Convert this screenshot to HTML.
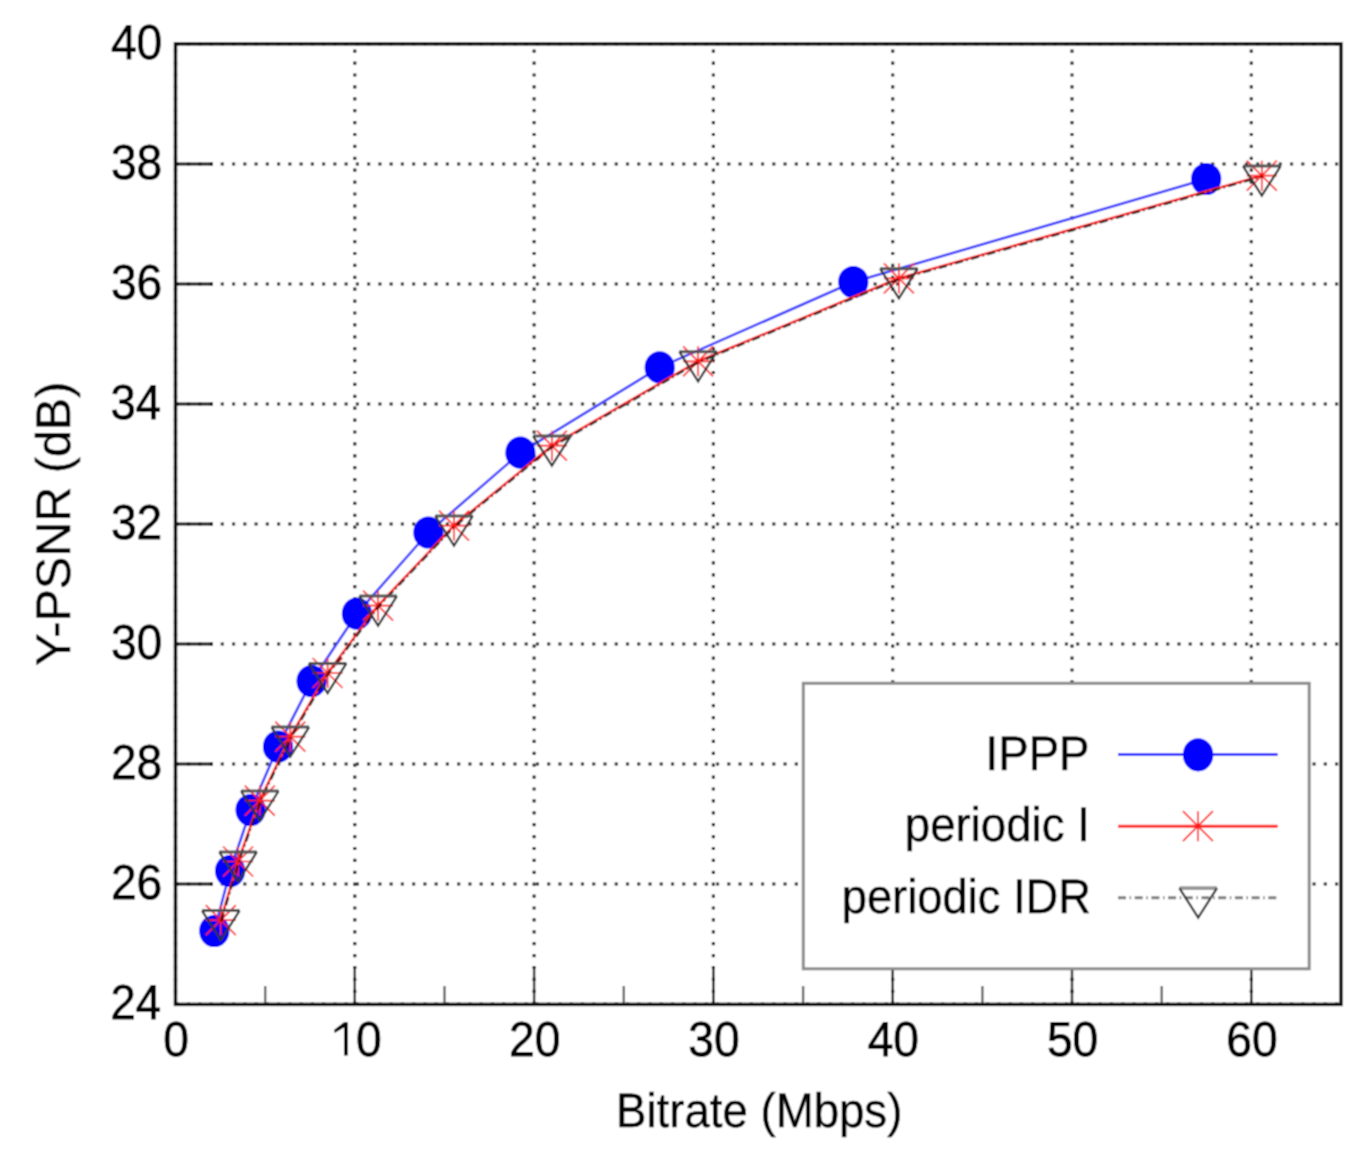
<!DOCTYPE html><html><head><meta charset="utf-8"><style>html,body{margin:0;padding:0;background:#fff;}svg{display:block;}text{font-family:"Liberation Sans",sans-serif;text-rendering:geometricPrecision;}</style></head><body>
<svg width="1367" height="1164" viewBox="0 0 1367 1164">
<defs><filter id="bl" x="0" y="0" width="1367" height="1164" filterUnits="userSpaceOnUse" primitiveUnits="userSpaceOnUse"><feConvolveMatrix order="3" kernelMatrix="1 2 1 2 4 2 1 2 1" divisor="16" edgeMode="duplicate"/></filter></defs>
<rect width="1367" height="1164" fill="#fff"/><g filter="url(#bl)"><rect width="1367" height="1164" fill="#fff"/>
<path d="M175.5 1004.0H1341.0M175.5 884.0H1341.0M175.5 764.0H1341.0M175.5 644.0H1341.0M175.5 524.0H1341.0M175.5 404.0H1341.0M175.5 284.0H1341.0M175.5 164.0H1341.0M175.5 44.0H1341.0" stroke="#282828" stroke-width="3.2" stroke-dasharray="3.2 8.055" stroke-dashoffset="-0.20" fill="none"/>
<path d="M175.5 1004.0V44.0M354.8 1004.0V44.0M534.1 1004.0V44.0M713.4 1004.0V44.0M892.7 1004.0V44.0M1072.0 1004.0V44.0M1251.3 1004.0V44.0" stroke="#282828" stroke-width="3.2" stroke-dasharray="3.2 8.700" stroke-dashoffset="0.80" fill="none"/>
<path d="M175.5 884.0h37.5M175.5 764.0h37.5M175.5 644.0h37.5M175.5 524.0h37.5M175.5 404.0h37.5M175.5 284.0h37.5M175.5 164.0h37.5" stroke="#111" stroke-width="3" fill="none"/>
<path d="M354.8 1004.0v-37.5M534.1 1004.0v-37.5M713.4 1004.0v-37.5M892.7 1004.0v-37.5M1072.0 1004.0v-37.5M1251.3 1004.0v-37.5" stroke="#222" stroke-width="2.4" fill="none"/>
<path d="M265.2 1004.0v-18M444.5 1004.0v-18M623.8 1004.0v-18M803.1 1004.0v-18M982.4 1004.0v-18M1161.7 1004.0v-18" stroke="#666" stroke-width="2.4" fill="none"/>
<rect x="803.3" y="683.3" width="505.9" height="285.5" fill="#fff" stroke="#8c8c8c" stroke-width="3"/>
<rect x="175.5" y="43.9" width="1165.5" height="960.5" fill="none" stroke="#111" stroke-width="3.5"/>
<polyline points="214.3,931.0 230.1,871.0 250.6,810.0 278.0,746.7 311.6,681.2 356.9,613.7 428.4,532.5 520.4,452.7 659.7,367.4 853.3,282.0 1206.2,179.0" fill="none" stroke="#4040ff" stroke-width="2.6" stroke-linejoin="round"/>
<ellipse cx="214.3" cy="931.0" rx="15.1" ry="16.1" fill="#0000ff"/>
<ellipse cx="230.1" cy="871.0" rx="15.1" ry="16.1" fill="#0000ff"/>
<ellipse cx="250.6" cy="810.0" rx="15.1" ry="16.1" fill="#0000ff"/>
<ellipse cx="278.0" cy="746.7" rx="15.1" ry="16.1" fill="#0000ff"/>
<ellipse cx="311.6" cy="681.2" rx="15.1" ry="16.1" fill="#0000ff"/>
<ellipse cx="356.9" cy="613.7" rx="15.1" ry="16.1" fill="#0000ff"/>
<ellipse cx="428.4" cy="532.5" rx="15.1" ry="16.1" fill="#0000ff"/>
<ellipse cx="520.4" cy="452.7" rx="15.1" ry="16.1" fill="#0000ff"/>
<ellipse cx="659.7" cy="367.4" rx="15.1" ry="16.1" fill="#0000ff"/>
<ellipse cx="853.3" cy="282.0" rx="15.1" ry="16.1" fill="#0000ff"/>
<ellipse cx="1206.2" cy="179.0" rx="15.1" ry="16.1" fill="#0000ff"/>
<polyline points="220.8,920.2 238.1,861.5 259.8,800.6 290.3,736.7 327.6,673.0 378.1,605.7 454.0,525.6 551.9,445.7 698.1,361.3 898.9,278.3 1261.8,175.7" fill="none" stroke="#ff2a2a" stroke-width="2.6" stroke-linejoin="round"/>
<path d="M205.8 920.2h30M220.8 905.2v30M205.8 905.2l30 30M205.8 935.2l30 -30M223.1 861.5h30M238.1 846.5v30M223.1 846.5l30 30M223.1 876.5l30 -30M244.8 800.6h30M259.8 785.6v30M244.8 785.6l30 30M244.8 815.6l30 -30M275.3 736.7h30M290.3 721.7v30M275.3 721.7l30 30M275.3 751.7l30 -30M312.6 673.0h30M327.6 658.0v30M312.6 658.0l30 30M312.6 688.0l30 -30M363.1 605.7h30M378.1 590.7v30M363.1 590.7l30 30M363.1 620.7l30 -30M439.0 525.6h30M454.0 510.6v30M439.0 510.6l30 30M439.0 540.6l30 -30M536.9 445.7h30M551.9 430.7v30M536.9 430.7l30 30M536.9 460.7l30 -30M683.1 361.3h30M698.1 346.3v30M683.1 346.3l30 30M683.1 376.3l30 -30M883.9 278.3h30M898.9 263.3v30M883.9 263.3l30 30M883.9 293.3l30 -30M1246.8 175.7h30M1261.8 160.7v30M1246.8 160.7l30 30M1246.8 190.7l30 -30" stroke="#ff1a1a" stroke-width="1.7" fill="none"/>
<polyline points="221.3,921.1 238.6,862.4 260.3,801.5 290.8,737.6 328.1,673.9 378.6,606.6 454.5,526.5 552.4,446.6 698.6,362.2 899.4,279.2 1262.3,176.6" fill="none" stroke="#000" stroke-opacity="0.75" stroke-width="2.3" stroke-dasharray="8 3.6 1.5 3.6"/>
<path d="M202.0 910.6H239.6M219.3 851.9H256.9M241.0 791.0H278.6M271.5 727.1H309.1M308.8 663.4H346.4M359.3 596.1H396.9M435.2 516.0H472.8M533.1 436.1H570.7M679.3 351.7H716.9M880.1 268.7H917.7M1243.0 166.1H1280.6" stroke="#555" stroke-width="3.0" fill="none"/>
<path d="M202.0 910.6L220.8 940.2L239.6 910.6M219.3 851.9L238.1 881.5L256.9 851.9M241.0 791.0L259.8 820.6L278.6 791.0M271.5 727.1L290.3 756.7L309.1 727.1M308.8 663.4L327.6 693.0L346.4 663.4M359.3 596.1L378.1 625.7L396.9 596.1M435.2 516.0L454.0 545.6L472.8 516.0M533.1 436.1L551.9 465.7L570.7 436.1M679.3 351.7L698.1 381.3L716.9 351.7M880.1 268.7L898.9 298.3L917.7 268.7M1243.0 166.1L1261.8 195.7L1280.6 166.1" stroke="#333" stroke-width="2.3" fill="none" stroke-linejoin="miter"/>
<text transform="translate(161.1 1019.1) scale(0.92787 1)" font-size="49.0" text-anchor="end" fill="#000" stroke="#000" stroke-width="0.8">24</text>
<text transform="translate(162.3 899.1) scale(0.942 1)" font-size="49.0" text-anchor="end" fill="#000" stroke="#000" stroke-width="0.8">26</text>
<text transform="translate(162.3 779.1) scale(0.942 1)" font-size="49.0" text-anchor="end" fill="#000" stroke="#000" stroke-width="0.8">28</text>
<text transform="translate(162.3 659.1) scale(0.942 1)" font-size="49.0" text-anchor="end" fill="#000" stroke="#000" stroke-width="0.8">30</text>
<text transform="translate(162.3 539.1) scale(0.942 1)" font-size="49.0" text-anchor="end" fill="#000" stroke="#000" stroke-width="0.8">32</text>
<text transform="translate(161.1 419.1) scale(0.92787 1)" font-size="49.0" text-anchor="end" fill="#000" stroke="#000" stroke-width="0.8">34</text>
<text transform="translate(162.3 299.1) scale(0.942 1)" font-size="49.0" text-anchor="end" fill="#000" stroke="#000" stroke-width="0.8">36</text>
<text transform="translate(162.3 179.1) scale(0.942 1)" font-size="49.0" text-anchor="end" fill="#000" stroke="#000" stroke-width="0.8">38</text>
<text transform="translate(162.3 59.1) scale(0.942 1)" font-size="49.0" text-anchor="end" fill="#000" stroke="#000" stroke-width="0.8">40</text>
<text transform="translate(176.1 1056.0) scale(0.942 1)" font-size="49.0" text-anchor="middle" fill="#000" stroke="#000" stroke-width="0.8">0</text>
<text transform="translate(368.8 1056.0) scale(0.942 1)" font-size="49.0" text-anchor="middle" fill="#000" stroke="#000" stroke-width="0.8">0</text>
<path d="M344.0 1022.2H347.8V1055.6H344.0V1027.6L334.7 1033.1L334.2 1029.7Z" fill="#000"/>
<text transform="translate(534.7 1056.0) scale(0.942 1)" font-size="49.0" text-anchor="middle" fill="#000" stroke="#000" stroke-width="0.8">20</text>
<text transform="translate(714.0 1056.0) scale(0.942 1)" font-size="49.0" text-anchor="middle" fill="#000" stroke="#000" stroke-width="0.8">30</text>
<text transform="translate(893.3 1056.0) scale(0.942 1)" font-size="49.0" text-anchor="middle" fill="#000" stroke="#000" stroke-width="0.8">40</text>
<text transform="translate(1072.6 1056.0) scale(0.942 1)" font-size="49.0" text-anchor="middle" fill="#000" stroke="#000" stroke-width="0.8">50</text>
<text transform="translate(1251.9 1056.0) scale(0.942 1)" font-size="49.0" text-anchor="middle" fill="#000" stroke="#000" stroke-width="0.8">60</text>
<text transform="translate(759.2 1127.2) scale(0.942 1)" font-size="48.4" text-anchor="middle" fill="#000" stroke="#000" stroke-width="0.5">Bitrate (Mbps)</text>
<text transform="translate(69.5 523.65) rotate(-90) scale(1.003 1)" font-size="48.4" text-anchor="middle" fill="#000" stroke="#000" stroke-width="0.5">Y-PSNR (dB)</text>
<text transform="translate(1089.5 770.3) scale(0.942 1)" font-size="48.4" text-anchor="end" fill="#000" stroke="#000" stroke-width="0.5">IPPP</text>
<text transform="translate(1089.8 841.3) scale(0.942 1)" font-size="48.4" text-anchor="end" fill="#000" stroke="#000" stroke-width="0.5">periodic I</text>
<text transform="translate(1091.0 912.8) scale(0.936348 1)" font-size="48.4" text-anchor="end" fill="#000" stroke="#000" stroke-width="0.5">periodic IDR</text>
<path d="M1118 754.6H1277.7" stroke="#4040ff" stroke-width="3"/>
<ellipse cx="1198.1" cy="754.8" rx="15.2" ry="16.6" fill="#0000ff"/>
<path d="M1118 826.2H1277.7" stroke="#ff2a2a" stroke-width="3"/>
<path d="M1182.9 826.2h30M1197.9 811.2v30M1182.9 811.2l30 30M1182.9 841.2l30 -30" stroke="#ff1a1a" stroke-width="1.7" fill="none"/>
<path d="M1118 897.7H1278.5" stroke="#000" stroke-opacity="0.5" stroke-width="3" stroke-dasharray="8 3.6 1.5 3.6"/>
<path d="M1179.4 888.1H1217.0" stroke="#999" stroke-width="3.6" fill="none"/>
<path d="M1179.4 888.1L1198.2 917.7L1217.0 888.1" stroke="#333" stroke-width="2.3" fill="none"/>
</g></svg></body></html>
